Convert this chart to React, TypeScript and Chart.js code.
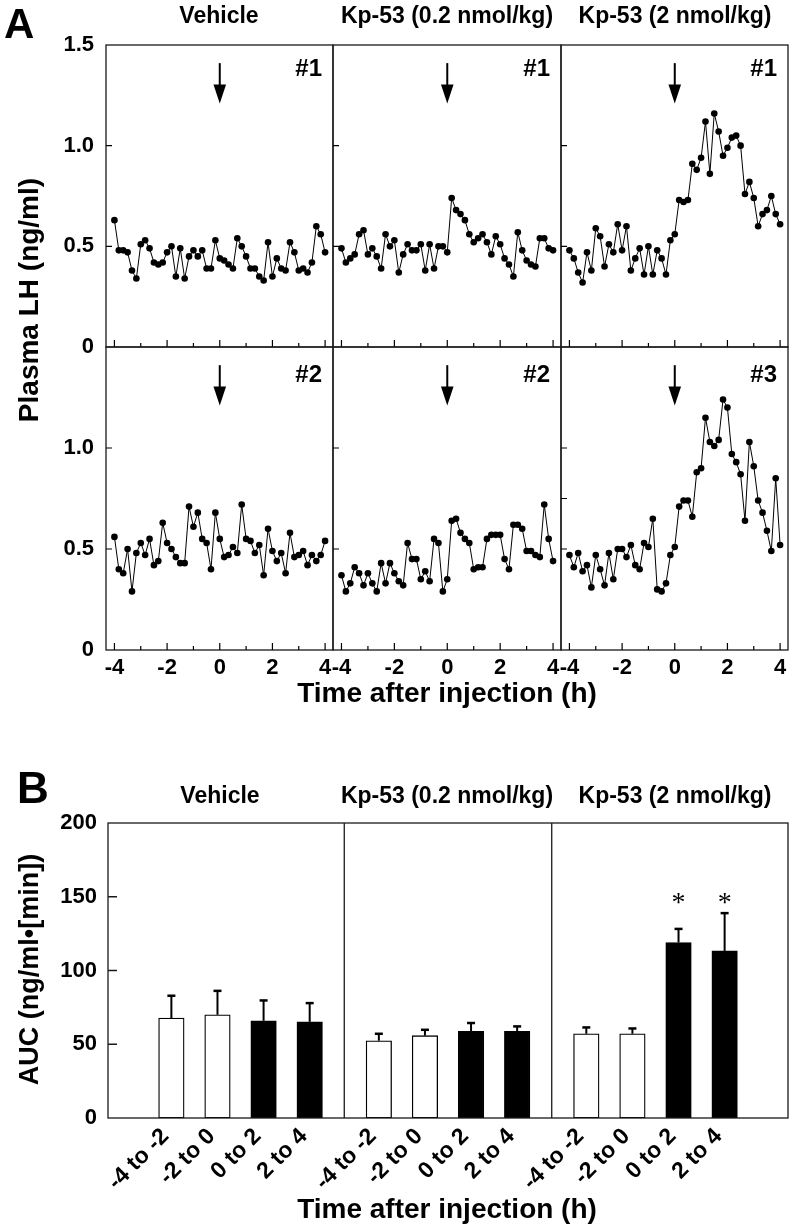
import React, { useEffect, useRef } from "react";
import { Chart, registerables } from "chart.js";

Chart.register(...registerables);

// ---------------- data ----------------
const SAMPLE_MIN = [-240, -230, -220, -210, -200, -190, -180, -170, -160, -150, -140, -130, -120, -110, -100, -90, -80, -70, -60, -50, -40, -30, -20, -10, 0, 10, 20, 30, 40, 50, 60, 70, 80, 90, 100, 110, 120, 130, 140, 150, 160, 170, 180, 190, 200, 210, 220, 230, 240];
const TIME_TICKS_H = [-4, -3, -2, -1, 0, 1, 2, 3, 4];
const LH_TICKS = [0, 0.5, 1.0, 1.5];
const GROUP_TITLES = ["Vehicle", "Kp-53 (0.2 nmol/kg)", "Kp-53 (2 nmol/kg)"];

const LH_VEHICLE_1 = [0.63, 0.48, 0.48, 0.47, 0.38, 0.34, 0.51, 0.53, 0.49, 0.42, 0.41, 0.42, 0.47, 0.50, 0.35, 0.49, 0.34, 0.45, 0.48, 0.45, 0.48, 0.39, 0.39, 0.53, 0.44, 0.43, 0.41, 0.39, 0.54, 0.50, 0.45, 0.39, 0.39, 0.35, 0.33, 0.52, 0.35, 0.44, 0.39, 0.38, 0.52, 0.47, 0.38, 0.39, 0.37, 0.42, 0.60, 0.56, 0.47];
const LH_VEHICLE_2 = [0.56, 0.40, 0.38, 0.50, 0.29, 0.48, 0.53, 0.47, 0.55, 0.42, 0.44, 0.63, 0.53, 0.50, 0.46, 0.43, 0.43, 0.71, 0.61, 0.68, 0.55, 0.53, 0.40, 0.68, 0.55, 0.46, 0.47, 0.51, 0.48, 0.72, 0.55, 0.54, 0.48, 0.52, 0.37, 0.60, 0.49, 0.44, 0.48, 0.38, 0.58, 0.46, 0.47, 0.49, 0.42, 0.47, 0.44, 0.47, 0.54];
const LH_KP02_1 = [0.49, 0.42, 0.44, 0.46, 0.56, 0.58, 0.46, 0.49, 0.45, 0.39, 0.56, 0.50, 0.53, 0.37, 0.46, 0.51, 0.48, 0.48, 0.51, 0.38, 0.51, 0.39, 0.50, 0.50, 0.47, 0.74, 0.68, 0.66, 0.63, 0.56, 0.52, 0.54, 0.56, 0.52, 0.46, 0.55, 0.51, 0.44, 0.41, 0.35, 0.57, 0.48, 0.43, 0.41, 0.40, 0.54, 0.54, 0.49, 0.48];
const LH_KP02_2 = [0.37, 0.29, 0.33, 0.41, 0.38, 0.32, 0.38, 0.33, 0.29, 0.43, 0.33, 0.43, 0.38, 0.34, 0.32, 0.53, 0.45, 0.45, 0.35, 0.39, 0.34, 0.55, 0.53, 0.29, 0.35, 0.64, 0.65, 0.58, 0.55, 0.53, 0.40, 0.41, 0.41, 0.55, 0.57, 0.57, 0.57, 0.45, 0.40, 0.62, 0.62, 0.60, 0.49, 0.49, 0.47, 0.46, 0.72, 0.55, 0.44];
const LH_KP2_1 = [0.48, 0.44, 0.37, 0.32, 0.47, 0.38, 0.59, 0.55, 0.40, 0.51, 0.47, 0.61, 0.48, 0.60, 0.38, 0.44, 0.49, 0.36, 0.50, 0.36, 0.48, 0.44, 0.36, 0.53, 0.56, 0.73, 0.72, 0.73, 0.91, 0.88, 0.94, 1.12, 0.86, 1.16, 1.07, 0.95, 0.99, 1.04, 1.05, 1.00, 0.76, 0.82, 0.74, 0.60, 0.66, 0.68, 0.75, 0.66, 0.61];
const LH_KP2_3 = [0.47, 0.41, 0.48, 0.39, 0.42, 0.31, 0.47, 0.40, 0.32, 0.48, 0.35, 0.50, 0.50, 0.46, 0.52, 0.42, 0.40, 0.53, 0.51, 0.65, 0.30, 0.29, 0.33, 0.47, 0.51, 0.71, 0.74, 0.74, 0.66, 0.88, 0.90, 1.15, 1.03, 1.01, 1.04, 1.24, 1.20, 0.97, 0.93, 0.87, 0.64, 1.03, 0.91, 0.74, 0.68, 0.59, 0.49, 0.85, 0.52];
const ANIMAL_IDS_TOP = ["#1", "#1", "#1"];
const ANIMAL_IDS_BOTTOM = ["#2", "#2", "#3"];
const INJECTION_H = 0;

const AUC_PERIODS = ["-4 to -2", "-2 to 0", "0 to 2", "2 to 4"];
const AUC_POST = [false, false, true, true];
const AUC_VEHICLE = [67.7, 70.0, 65.9, 65.2];
const AUC_VEHICLE_SEM = [15.2, 16.2, 13.8, 12.7];
const AUC_KP02 = [52.4, 55.8, 58.7, 58.7];
const AUC_KP02_SEM = [4.7, 4.0, 5.7, 3.4];
const AUC_KP2 = [57.1, 57.1, 119.0, 113.3];
const AUC_KP2_SEM = [4.3, 3.6, 9.2, 25.6];
const AUC_SIG_VEHICLE = [false, false, false, false];
const AUC_SIG_KP02 = [false, false, false, false];
const AUC_SIG_KP2 = [false, false, true, true];
const AUC_TICKS = [0, 50, 100, 150, 200];

// ---------------- layout / style ----------------
const FONT = '"Liberation Sans", Arial, Helvetica, sans-serif';
const COL_EDGES = [106, 333, 561, 788];
const ROW_EDGES = [45, 347, 650];
const ARROW_FROM = 1.41;
const ARROW_TO = 1.21;
const GROUP_STRIDE = 4.5;
const SIG_MARK_LEVEL = 150;

const LH_PANELS = [
  { row: 0, col: 0, values: LH_VEHICLE_1, id: ANIMAL_IDS_TOP[0], marks: [0.5, 1.0] },
  { row: 0, col: 1, values: LH_KP02_1, id: ANIMAL_IDS_TOP[1], marks: [0.5, 1.0] },
  { row: 0, col: 2, values: LH_KP2_1, id: ANIMAL_IDS_TOP[2], marks: [0.5, 1.0] },
  { row: 1, col: 0, values: LH_VEHICLE_2, id: ANIMAL_IDS_BOTTOM[0], marks: [0.5, 1.0] },
  { row: 1, col: 1, values: LH_KP02_2, id: ANIMAL_IDS_BOTTOM[1], marks: [0.5, 1.0] },
  { row: 1, col: 2, values: LH_KP2_3, id: ANIMAL_IDS_BOTTOM[2], marks: [0.5, 0.75, 1.0] },
].map((p) => {
  const canvasLeft = p.col === 0 ? 0 : COL_EDGES[p.col] - 14;
  const padLeft = COL_EDGES[p.col] - canvasLeft;
  const padRight = p.col === 2 ? 5 : 14;
  const padTop = 12;
  const padBottom = p.row === 1 ? 36 : 12;
  return {
    ...p,
    canvasLeft,
    canvasTop: ROW_EDGES[p.row] - padTop,
    width: COL_EDGES[p.col + 1] + padRight - canvasLeft,
    height: ROW_EDGES[p.row + 1] - ROW_EDGES[p.row] + padTop + padBottom,
    padLeft,
    padRight,
    padTop,
    padBottom,
    idBaseline: p.row === 0 ? 31 : 35,
  };
});

const AUC_CANVAS = { left: 0, top: 808, width: 793, height: 392, padLeft: 108, padTop: 15, padRight: 5, padBottom: 82 };

const TEXTS = [
  { text: "A", x: 4, baseline: 39, size: 42, align: "left" },
  { text: "B", x: 17, baseline: 803, size: 44, align: "left" },
  { text: GROUP_TITLES[0], x: 219, baseline: 23, size: 23 },
  { text: GROUP_TITLES[1], x: 447, baseline: 23, size: 23 },
  { text: GROUP_TITLES[2], x: 675, baseline: 23, size: 23 },
  { text: GROUP_TITLES[0], x: 220, baseline: 803, size: 23 },
  { text: GROUP_TITLES[1], x: 447, baseline: 803, size: 23 },
  { text: GROUP_TITLES[2], x: 675, baseline: 803, size: 23 },
  { text: "Time after injection (h)", x: 447, baseline: 703, size: 28 },
  { text: "Time after injection (h)", x: 447, baseline: 1219, size: 28 },
];
const VTEXTS = [
  { text: "Plasma LH (ng/ml)", cx: 29, cy: 300, size: 28 },
  { text: "AUC (ng/ml\u2022[min])", cx: 29, cy: 969, size: 27 },
];

function noScalePadding(s: any) {
  s.paddingTop = 0;
  s.paddingBottom = 0;
  s.paddingLeft = 0;
  s.paddingRight = 0;
}

function lhDecor(id: string, idBaseline: number, marks: number[]) {
  return {
    id: "lhDecor",
    afterDraw(chart: any) {
      const { ctx, chartArea: a, scales } = chart;
      const xs = scales.x;
      const ys = scales.y;
      ctx.save();
      ctx.strokeStyle = "#1a1a1a";
      ctx.lineWidth = 1.3;
      ctx.strokeRect(a.left, a.top, a.right - a.left, a.bottom - a.top);
      ctx.strokeStyle = "#000";
      ctx.lineWidth = 1.2;
      ctx.beginPath();
      for (const v of marks) {
        const py = ys.getPixelForValue(v);
        ctx.moveTo(a.left, py);
        ctx.lineTo(a.left + 6, py);
      }
      for (const v of TIME_TICKS_H) {
        const px = xs.getPixelForValue(v);
        const len = v % 2 === 0 ? 7 : 4;
        ctx.moveTo(px, a.bottom);
        ctx.lineTo(px, a.bottom - len);
      }
      ctx.stroke();
      // injection arrow
      const ax = xs.getPixelForValue(INJECTION_H);
      const yTail = ys.getPixelForValue(ARROW_FROM);
      const yTip = ys.getPixelForValue(ARROW_TO);
      ctx.lineWidth = 2;
      ctx.beginPath();
      ctx.moveTo(ax, yTail);
      ctx.lineTo(ax, yTip - 15);
      ctx.stroke();
      ctx.fillStyle = "#000";
      ctx.beginPath();
      ctx.moveTo(ax - 6.3, yTip - 19);
      ctx.lineTo(ax + 6.3, yTip - 19);
      ctx.lineTo(ax, yTip);
      ctx.closePath();
      ctx.fill();
      // animal id
      ctx.font = `bold 24px ${FONT}`;
      ctx.textAlign = "right";
      ctx.textBaseline = "alphabetic";
      ctx.fillText(id, a.right - 11, a.top + idBaseline);
      ctx.restore();
    },
  };
}

function makeLH(canvas: HTMLCanvasElement, p: any) {
  const showY = p.col === 0;
  const showX = p.row === 1;
  return new Chart(canvas, {
    type: "line",
    data: {
      datasets: [
        {
          data: SAMPLE_MIN.map((m, i) => ({ x: m / 60, y: p.values[i] })),
          borderColor: "#000",
          borderWidth: 1,
          pointRadius: 3.3,
          pointBackgroundColor: "#000",
          pointBorderWidth: 0,
          tension: 0,
        },
      ],
    },
    options: {
      animation: false,
      responsive: false,
      maintainAspectRatio: false,
      events: [],
      layout: { autoPadding: false, padding: { top: p.padTop, right: p.padRight, left: 0, bottom: 0 } },
      plugins: { legend: { display: false }, tooltip: { enabled: false } },
      scales: {
        x: {
          type: "linear",
          min: -4.32,
          max: 4.3,
          afterBuildTicks: (s: any) => {
            s.ticks = TIME_TICKS_H.map((v) => ({ value: v }));
          },
          afterFit: (s: any) => {
            s.height = p.padBottom;
            noScalePadding(s);
          },
          grid: { display: false, drawTicks: false },
          border: { display: false },
          ticks: {
            display: showX,
            autoSkip: false,
            maxRotation: 0,
            minRotation: 0,
            padding: 5,
            color: "#000",
            font: { family: FONT, weight: "bold", size: 22 },
            callback: (v: any) => (Number(v) % 2 === 0 ? String(v) : ""),
          },
        },
        y: {
          type: "linear",
          min: 0,
          max: 1.5,
          afterBuildTicks: (s: any) => {
            s.ticks = LH_TICKS.map((v) => ({ value: v }));
          },
          afterFit: (s: any) => {
            s.width = p.padLeft;
            noScalePadding(s);
          },
          grid: { display: false, drawTicks: false },
          border: { display: false },
          ticks: {
            display: showY,
            padding: 12,
            color: "#000",
            font: { family: FONT, weight: "bold", size: 22 },
            callback: (v: any) => {
              const n = Number(v);
              if (p.row === 1 && n === 1.5) return "";
              return n === 0 ? "0" : n.toFixed(1);
            },
          },
        },
      },
    },
    plugins: [lhDecor(p.id, p.idBaseline, p.marks)],
  } as any);
}

function makeAUC(canvas: HTMLCanvasElement) {
  const means = [AUC_VEHICLE, AUC_KP02, AUC_KP2];
  const sems = [AUC_VEHICLE_SEM, AUC_KP02_SEM, AUC_KP2_SEM];
  const sigs = [AUC_SIG_VEHICLE, AUC_SIG_KP02, AUC_SIG_KP2];
  const bars: any[] = [];
  means.forEach((vals, g) =>
    vals.forEach((v, k) =>
      bars.push({ x: g * GROUP_STRIDE + k, y: v, sem: sems[g][k], post: AUC_POST[k], sig: sigs[g][k], label: AUC_PERIODS[k] })
    )
  );
  const dividers = [GROUP_STRIDE - 0.75, 2 * GROUP_STRIDE - 0.75];
  const c = AUC_CANVAS;
  const decor = {
    id: "aucDecor",
    afterDatasetsDraw(chart: any) {
      const { ctx, scales } = chart;
      const xs = scales.x;
      const ys = scales.y;
      ctx.save();
      ctx.strokeStyle = "#000";
      for (const b of bars) {
        const px = xs.getPixelForValue(b.x);
        const y0 = ys.getPixelForValue(b.y);
        const y1 = ys.getPixelForValue(b.y + b.sem);
        ctx.lineWidth = 2;
        ctx.beginPath();
        ctx.moveTo(px, y0);
        ctx.lineTo(px, y1);
        ctx.stroke();
        ctx.lineWidth = 2.5;
        ctx.beginPath();
        ctx.moveTo(px - 4, y1);
        ctx.lineTo(px + 4, y1);
        ctx.stroke();
        if (b.sig) {
          ctx.fillStyle = "#000";
          ctx.font = `28px "Liberation Serif", "Times New Roman", serif`;
          ctx.textAlign = "center";
          ctx.textBaseline = "alphabetic";
          ctx.fillText("*", px, ys.getPixelForValue(SIG_MARK_LEVEL) + 14);
        }
      }
      ctx.restore();
    },
    afterDraw(chart: any) {
      const { ctx, chartArea: a, scales } = chart;
      const xs = scales.x;
      const ys = scales.y;
      ctx.save();
      ctx.strokeStyle = "#1a1a1a";
      ctx.lineWidth = 1.3;
      ctx.strokeRect(a.left, a.top, a.right - a.left, a.bottom - a.top);
      ctx.beginPath();
      for (const d of dividers) {
        const px = xs.getPixelForValue(d);
        ctx.moveTo(px, a.top);
        ctx.lineTo(px, a.bottom);
      }
      for (const v of AUC_TICKS) {
        if (v <= 0 || v >= 200) continue;
        const py = ys.getPixelForValue(v);
        ctx.moveTo(a.left, py);
        ctx.lineTo(a.left + 9, py);
      }
      ctx.stroke();
      ctx.restore();
    },
  };
  return new Chart(canvas, {
    type: "bar",
    data: {
      datasets: [
        {
          data: bars.map((b) => ({ x: b.x, y: b.y })),
          backgroundColor: bars.map((b) => (b.post ? "#000" : "#fff")),
          borderColor: "#000",
          borderWidth: 1.3,
          borderSkipped: false,
          barThickness: 25.5,
        },
      ],
    },
    options: {
      animation: false,
      responsive: false,
      maintainAspectRatio: false,
      events: [],
      layout: { autoPadding: false, padding: { top: c.padTop, right: c.padRight, left: 0, bottom: 0 } },
      plugins: { legend: { display: false }, tooltip: { enabled: false } },
      scales: {
        x: {
          type: "linear",
          min: -0.76,
          max: 2 * GROUP_STRIDE + 3.76,
          afterBuildTicks: (s: any) => {
            s.ticks = bars.map((b) => ({ value: b.x }));
          },
          afterFit: (s: any) => {
            s.height = c.padBottom;
            noScalePadding(s);
          },
          grid: { display: false, drawTicks: false },
          border: { display: false },
          ticks: {
            autoSkip: false,
            minRotation: 45,
            maxRotation: 45,
            padding: 5,
            labelOffset: -6,
            color: "#000",
            font: { family: FONT, weight: "bold", size: 23 },
            callback: (_v: any, i: number) => (bars[i] ? bars[i].label : ""),
          },
        },
        y: {
          type: "linear",
          min: 0,
          max: 200,
          afterBuildTicks: (s: any) => {
            s.ticks = AUC_TICKS.map((v) => ({ value: v }));
          },
          afterFit: (s: any) => {
            s.width = c.padLeft;
            noScalePadding(s);
          },
          grid: { display: false, drawTicks: false },
          border: { display: false },
          ticks: {
            padding: 11,
            color: "#000",
            font: { family: FONT, weight: "bold", size: 22 },
            callback: (v: any) => String(v),
          },
        },
      },
    },
    plugins: [decor],
  } as any);
}

export default function App() {
  const lhRefs = useRef<(HTMLCanvasElement | null)[]>([]);
  const aucRef = useRef<HTMLCanvasElement | null>(null);

  useEffect(() => {
    const charts: Chart[] = [];
    LH_PANELS.forEach((p, i) => {
      const cv = lhRefs.current[i];
      if (cv) charts.push(makeLH(cv, p));
    });
    if (aucRef.current) charts.push(makeAUC(aucRef.current));
    return () => charts.forEach((c) => c.destroy());
  }, []);

  return (
    <div style={{ position: "absolute", left: 0, top: 0, width: 793, height: 1231, overflow: "hidden", background: "#fff", color: "#000" }}>
      {LH_PANELS.map((p, i) => (
        <canvas
          key={i}
          ref={(el) => {
            lhRefs.current[i] = el;
          }}
          width={p.width}
          height={p.height}
          style={{ position: "absolute", left: p.canvasLeft, top: p.canvasTop, width: p.width, height: p.height }}
        />
      ))}
      <canvas
        ref={aucRef}
        width={AUC_CANVAS.width}
        height={AUC_CANVAS.height}
        style={{ position: "absolute", left: AUC_CANVAS.left, top: AUC_CANVAS.top, width: AUC_CANVAS.width, height: AUC_CANVAS.height }}
      />
      {TEXTS.map((t, i) => (
        <div
          key={"t" + i}
          style={{
            position: "absolute",
            left: t.align === "left" ? t.x : t.x - 300,
            width: t.align === "left" ? undefined : 600,
            top: t.baseline - 0.8465 * t.size,
            fontSize: t.size,
            lineHeight: t.size + "px",
            fontFamily: FONT,
            fontWeight: 700,
            textAlign: t.align === "left" ? "left" : "center",
            whiteSpace: "nowrap",
          }}
        >
          {t.text}
        </div>
      ))}
      {VTEXTS.map((t, i) => (
        <div
          key={"v" + i}
          style={{
            position: "absolute",
            left: t.cx - 200,
            top: t.cy - t.size / 2,
            width: 400,
            height: t.size,
            fontSize: t.size,
            lineHeight: t.size + "px",
            fontFamily: FONT,
            fontWeight: 700,
            textAlign: "center",
            whiteSpace: "nowrap",
            transform: "rotate(-90deg)",
            transformOrigin: "50% 50%",
          }}
        >
          {t.text}
        </div>
      ))}
    </div>
  );
}
